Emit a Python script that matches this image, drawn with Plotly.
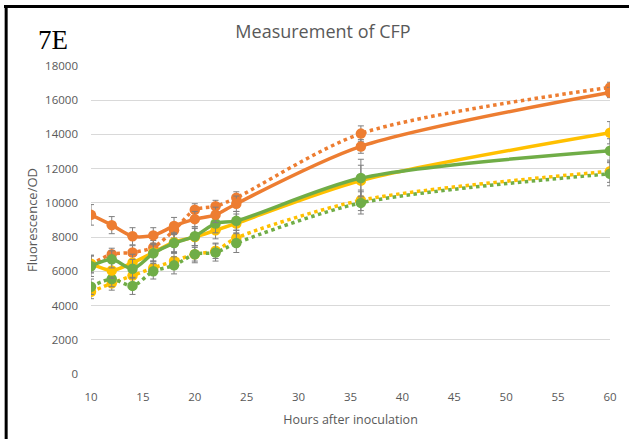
import plotly.graph_objects as go

hours = [10, 12, 14, 16, 18, 20, 22, 24, 36, 60]

orange_solid = [9300, 8700, 8050, 8100, 8650, 9050, 9300, 9950, 13300, 16450]
orange_solid_err = [600, 500, 500, 450, 500, 450, 450, 450, 400, 300]
orange_dotted = [6400, 7000, 7100, 7400, 8400, 9600, 9800, 10300, 14050, 16750]
orange_dotted_err = [500, 350, 400, 400, 450, 350, 350, 350, 450, 300]

yellow_solid = [6450, 6050, 6500, 7100, 7700, 8000, 8400, 8800, 11300, 14100]
yellow_solid_err = [500, 450, 500, 500, 550, 500, 500, 550, 900, 650]
yellow_dotted = [4800, 5300, 5750, 6200, 6600, 7000, 7200, 7950, 10150, 11850]
yellow_dotted_err = [400, 400, 450, 400, 450, 400, 450, 450, 600, 650]

green_solid = [6300, 6700, 6150, 7050, 7650, 8050, 8800, 8950, 11450, 13050]
green_solid_err = [600, 500, 550, 500, 550, 550, 550, 550, 1100, 700]
green_dotted = [5100, 5550, 5150, 6000, 6350, 7000, 7100, 7650, 10000, 11700]
green_dotted_err = [450, 450, 500, 450, 500, 500, 500, 550, 650, 700]

y_ticks = [0, 2000, 4000, 6000, 8000, 10000, 12000, 14000, 16000, 18000]
y_tick_labels = ["0", "2000", "4000", "6000", "8000", "10000", "12000", "14000", "16000", "18000"]
x_ticks = [10, 15, 20, 25, 30, 35, 40, 45, 50, 55, 60]

ORANGE = "#ED7D31"
YELLOW = "#FFC000"
GREEN = "#70AD47"
ERR = "#7F7F7F"

series = [
    (yellow_dotted, yellow_dotted_err, YELLOW, "dot"),
    (green_dotted, green_dotted_err, GREEN, "dot"),
    (orange_dotted, orange_dotted_err, ORANGE, "dot"),
    (yellow_solid, yellow_solid_err, YELLOW, "solid"),
    (green_solid, green_solid_err, GREEN, "solid"),
    (orange_solid, orange_solid_err, ORANGE, "solid"),
]

fig = go.Figure()
for vals, errs, col, dash in series:
    fig.add_trace(go.Scatter(
        x=hours, y=vals, mode="lines+markers",
        line=dict(color=col, width=3.5, dash=dash, shape="spline", smoothing=0.8),
        marker=dict(color=col, size=10.5),
        error_y=dict(type="data", array=errs, visible=True, color=ERR,
                     thickness=1, width=3),
        showlegend=False,
    ))

L, R, T, B = 91, 614, 66, 374
W, H = 629, 439


def px_x(p):
    return (p - L) / (R - L)


def px_y(p):
    return (B - p) / (B - T)


fig.update_layout(
    width=W, height=H,
    margin=dict(l=L, r=W - R, t=T, b=H - B, pad=0),
    paper_bgcolor="white", plot_bgcolor="white",
    font=dict(family="Open Sans", color="#595959"),
    title=dict(text="Measurement of CFP", x=323 / W, xanchor="center",
               y=1 - 32 / H, yanchor="middle",
               font=dict(size=18, color="#595959", family="Open Sans")),
    xaxis=dict(range=[10, 60], tickvals=x_ticks, showgrid=False, zeroline=False,
               showline=False, ticks="", ticklabelstandoff=14,
               tickfont=dict(size=11.5, color="#595959"),
               title=dict(text="Hours after inoculation", standoff=12,
                          font=dict(size=12.5, color="#595959"))),
    yaxis=dict(range=[0, 18000], tickvals=y_ticks, ticktext=y_tick_labels,
               showgrid=True, gridcolor="#D9D9D9", gridwidth=1, zeroline=False,
               showline=False, ticks="", ticklabelstandoff=12,
               tickfont=dict(size=11.5, color="#595959"),
               title=dict(text="Fluorescence/OD", standoff=4,
                          font=dict(size=13, color="#595959"))),
    annotations=[dict(text="7E", x=px_x(36), y=px_y(40), xref="paper", yref="paper",
                      xanchor="left", yanchor="middle", showarrow=False,
                      font=dict(family="Liberation Serif", size=27, color="black"))],
    shapes=[
        dict(type="line", xref="paper", yref="paper", layer="above",
             x0=px_x(4), x1=px_x(640), y0=px_y(6.5), y1=px_y(6.5),
             line=dict(color="black", width=3)),
        dict(type="line", xref="paper", yref="paper", layer="above",
             x0=px_x(5.5), x1=px_x(5.5), y0=px_y(5), y1=px_y(460),
             line=dict(color="black", width=3)),
    ],
)

post = (
    "document.body.style.margin='0';"
    "var b=document.createElement('div');"
    "b.style.cssText='position:fixed;left:4px;top:5px;width:640px;height:3px;"
    "background:#000;z-index:1000;pointer-events:none;';"
    "document.body.appendChild(b);"
)

fig.write_html("out.html", config={"displayModeBar": False}, post_script=post)
